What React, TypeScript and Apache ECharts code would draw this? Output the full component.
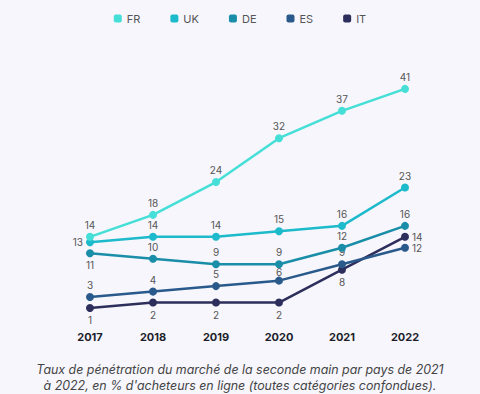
import React, { useEffect, useRef } from "react";
import * as echarts from "echarts";

const years = ["2017", "2018", "2019", "2020", "2021", "2022"];
const seriesNames = ["FR", "UK", "DE", "ES", "IT"];
const frValues = [14, 18, 24, 32, 37, 41];
const ukValues = [13, 14, 14, 15, 16, 23];
const deValues = [11, 10, 9, 9, 12, 16];
const esValues = [3, 4, 5, 6, 9, 12];
const itValues = [1, 2, 2, 2, 8, 14];
const colors = ["#45dfd7", "#1dbacb", "#1a8ea8", "#2a5a8b", "#2d2e5b"];
const captionLines = [
  "Taux de pénétration du marché de la seconde main par pays de 2021",
  "à 2022, en % d'acheteurs en ligne (toutes catégories confondues).",
];

// label positions per point
const frPos = ["top", "top", "top", "top", "top", "top"];
const ukPos = ["left", "top", "top", "top", "top", "top"];
const dePos = ["bottom", "top", "top", "top", "top", "top"];
const esPos = ["top", "top", "top", "top", "top", "right"];
const itPos = ["bottom", "bottom", "bottom", "bottom", "bottom", "right"];

export default function App() {
  const ref = useRef<HTMLDivElement>(null);
  useEffect(() => {
    if (!ref.current) return;
    const chart = echarts.init(ref.current, undefined, { renderer: "svg" });
    const all = [frValues, ukValues, deValues, esValues, itValues];
    const poss = [frPos, ukPos, dePos, esPos, itPos];
    const series = seriesNames.map((name, i) => ({
      name,
      type: "line",
      data: all[i].map((v, j) => ({
        value: v,
        label:
          i === 3 && j === 3
            ? { position: poss[i][j], distance: 0 }
            : { position: poss[i][j] },
      })),
      symbol: "circle",
      symbolSize: 8,
      lineStyle: { width: 2.5, color: colors[i] },
      itemStyle: { color: colors[i] },
      z: 10 - i,
      label: {
        show: true,
        fontSize: 10,
        color: "#555",
        fontFamily: "Inter",
        distance: 3,
      },
    }));
    chart.setOption({
      animation: false,
      backgroundColor: "#f6f6fc",
      color: colors,
      legend: {
        top: 8,
        left: "center",
        itemWidth: 8,
        itemHeight: 8,
        itemGap: 30,
        icon: "roundRect",
        textStyle: { fontSize: 11, color: "#555", fontFamily: "Inter" },
        data: seriesNames.map((n) => ({ name: n, icon: "roundRect" })),
      },
      grid: { left: 90, right: 75, top: 67, bottom: 80.5 },
      xAxis: {
        type: "category",
        data: years,
        boundaryGap: false,
        axisLine: { show: false },
        axisTick: { show: false },
        axisLabel: {
          margin: 18,
          fontSize: 11,
          fontWeight: "bold",
          color: "#1e1e2a",
          fontFamily: "Inter",
        },
      },
      yAxis: {
        type: "value",
        min: 0,
        max: 45,
        show: false,
        splitLine: { show: false },
      },
      series,
      graphic: captionLines.map((t, i) => ({
        type: "text",
        left: "center",
        top: 363 + i * 16,
        style: {
          text: t,
          fontSize: 12.4,
          fontStyle: "italic",
          fill: "#444",
          fontFamily: "Inter",
        },
      })),
    });
    return () => chart.dispose();
  }, []);
  return (
    <div
      ref={ref}
      style={{ position: "fixed", left: 0, top: 0, width: 480, height: 394 }}
    />
  );
}
